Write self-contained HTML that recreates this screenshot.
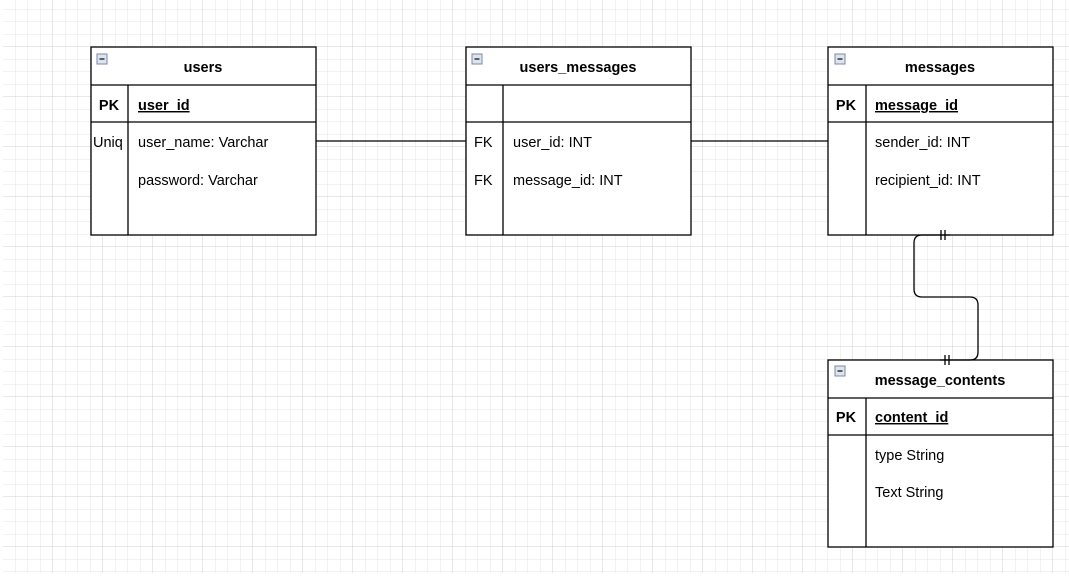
<!DOCTYPE html>
<html><head><style>
html,body{margin:0;padding:0;background:#fff;}
svg{display:block;font-family:"Liberation Sans",Arial,sans-serif;}
</style></head><body>
<svg width="1069" height="581" viewBox="0 0 1069 581" xmlns="http://www.w3.org/2000/svg">
<defs>
<pattern id="g" x="3" y="-3" width="12.5" height="12.5" patternUnits="userSpaceOnUse">
<path d="M12.5 0V12.5M0 12.5H12.5" stroke="#e6e6e6" stroke-width="1" fill="none"/>
</pattern>
<pattern id="G" x="3" y="-3" width="50" height="50" patternUnits="userSpaceOnUse">
<path d="M50 0V50M0 50H50" stroke="#d0d0d0" stroke-width="1" fill="none"/>
</pattern>
<g id="ic"><rect x="0" y="0" width="10" height="10" fill="#dde4ee" stroke="#7a8aa0" stroke-width="1"/><line x1="2.5" y1="5" x2="7.5" y2="5" stroke="#333" stroke-width="1.5"/></g>
</defs>
<rect x="3" y="0" width="1066" height="573" fill="url(#g)"/>
<rect x="3" y="0" width="1066" height="573" fill="url(#G)"/>

<g stroke="#000" stroke-width="1.3" fill="#fff">
<rect x="91" y="47" width="225" height="188"/>
<rect x="466" y="47" width="225" height="188"/>
<rect x="828" y="47" width="225" height="188"/>
<rect x="828" y="360" width="225" height="187"/>
</g>
<g stroke="#000" stroke-width="1.3">
<line x1="91" y1="85" x2="316" y2="85"/><line x1="91" y1="122" x2="316" y2="122"/><line x1="128" y1="85" x2="128" y2="235"/>
<line x1="466" y1="85" x2="691" y2="85"/><line x1="466" y1="122" x2="691" y2="122"/><line x1="503" y1="85" x2="503" y2="235"/>
<line x1="828" y1="85" x2="1053" y2="85"/><line x1="828" y1="122" x2="1053" y2="122"/><line x1="866" y1="85" x2="866" y2="235"/>
<line x1="828" y1="398" x2="1053" y2="398"/><line x1="828" y1="435" x2="1053" y2="435"/><line x1="866" y1="398" x2="866" y2="547"/>
</g>

<g stroke="#000" stroke-width="1.3" fill="none">
<line x1="316" y1="141" x2="466" y2="141"/>
<line x1="691" y1="141" x2="828" y2="141"/>
<path d="M950 235 H922 Q914 235 914 243 V289 Q914 297 922 297 H970 Q978 297 978 305 V352 Q978 360 970 360 H940"/>
<line x1="941" y1="230" x2="941" y2="240"/><line x1="945" y1="230" x2="945" y2="240"/>
<line x1="945" y1="355" x2="945" y2="365"/><line x1="949" y1="355" x2="949" y2="365"/>
</g>

<use href="#ic" x="97" y="54"/><use href="#ic" x="472" y="54"/><use href="#ic" x="835" y="54"/><use href="#ic" x="835" y="366"/>

<g font-size="14.5" fill="#000">
<g font-weight="bold" text-anchor="middle">
<text x="203" y="72">users</text>
<text x="578" y="72">users_messages</text>
<text x="940" y="72">messages</text>
<text x="940" y="385">message_contents</text>
<text x="109" y="110">PK</text><text x="846" y="110">PK</text><text x="846" y="422">PK</text>
</g>
<g font-weight="bold" text-decoration="underline">
<text x="138" y="110">user_id</text>
<text x="875" y="110">message_id</text>
<text x="875" y="422">content_id</text>
</g>
<text x="93" y="147">Uniq</text>
<text x="138" y="147">user_name: Varchar</text>
<text x="138" y="185">password: Varchar</text>
<text x="474" y="147">FK</text><text x="513" y="147">user_id: INT</text>
<text x="474" y="185">FK</text><text x="513" y="185">message_id: INT</text>
<text x="875" y="147">sender_id: INT</text>
<text x="875" y="185">recipient_id: INT</text>
<text x="875" y="460">type String</text>
<text x="875" y="497">Text String</text>
</g>
</svg>
</body></html>
